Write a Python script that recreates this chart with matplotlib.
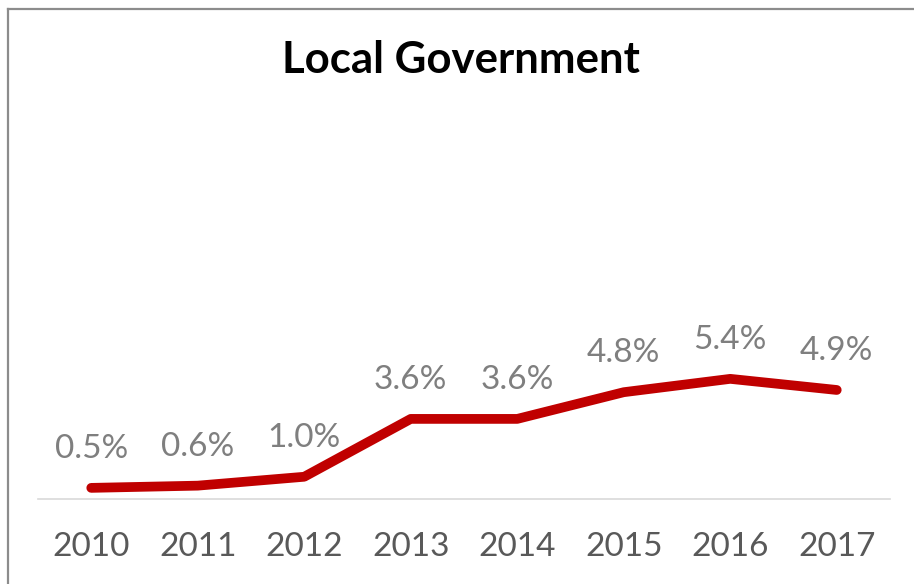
import matplotlib
matplotlib.use("Agg")
import matplotlib.pyplot as plt
from matplotlib.lines import Line2D

years = ["2010", "2011", "2012", "2013", "2014", "2015", "2016", "2017"]
values = [0.5, 0.6, 1.0, 3.6, 3.6, 4.8, 5.4, 4.9]
title = "Local Government"

plt.rcParams["font.family"] = ["Lato", "DejaVu Sans"]

W, H = 914, 584
fig = plt.figure(figsize=(W / 100, H / 100), dpi=100)
fig.patch.set_facecolor("white")

# plot area in pixel terms
left_px, right_px, bottom_px, top_px = 38, 890, 499, 54
ax = fig.add_axes([left_px / W, (H - bottom_px) / H,
                   (right_px - left_px) / W, (bottom_px - top_px) / H])

x = list(range(len(years)))
ax.plot(x, values, color="#C00000", lw=7.0, solid_capstyle="round",
        solid_joinstyle="round", zorder=3)

for xi, v in zip(x, values):
    ax.annotate(f"{v:.1f}%", (xi, v), xytext=(0, 39), textcoords="offset pixels",
                ha="center", va="center", fontsize=24, color="#7F7F7F")

ax.set_xlim(-0.5, len(years) - 0.5)
ax.set_ylim(0, 20)
ax.set_xticks(x)
ax.set_xticklabels(years, fontsize=24, color="#595959")
ax.tick_params(axis="x", length=0, pad=24)
ax.set_yticks([])
for side in ["left", "right", "top"]:
    ax.spines[side].set_visible(False)
ax.spines["bottom"].set_color("#D9D9D9")
ax.spines["bottom"].set_linewidth(1.2)
ax.patch.set_alpha(0)

fig.text(461 / W, 1 - 60 / H, title, ha="center", va="center",
         fontsize=31.5, fontweight="bold", color="black")

# chart frame (left and top edges)
fig.add_artist(Line2D([8 / W, 8 / W], [0, 1 - 9 / H], transform=fig.transFigure,
                      color="#8C8C8C", lw=1.6))
fig.add_artist(Line2D([8 / W, 1], [1 - 9 / H, 1 - 9 / H], transform=fig.transFigure,
                      color="#8C8C8C", lw=1.6))

fig.savefig("out.png", dpi=100, facecolor="white")
